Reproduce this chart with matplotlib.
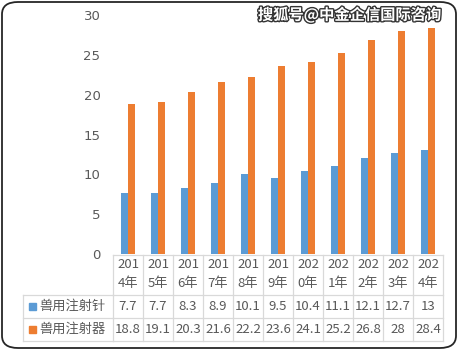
import matplotlib.pyplot as plt
import matplotlib.patheffects as pe
from matplotlib.patches import FancyBboxPatch, Rectangle
from matplotlib.transforms import blended_transform_factory

plt.rcParams['font.family'] = ['Noto Sans CJK SC', 'DejaVu Sans']

years = ['2014年', '2015年', '2016年', '2017年', '2018年', '2019年',
         '2020年', '2021年', '2022年', '2023年', '2024年']
needle = [7.7, 7.7, 8.3, 8.9, 10.1, 9.5, 10.4, 11.1, 12.1, 12.7, 13]
syringe = [18.8, 19.1, 20.3, 21.6, 22.2, 23.6, 24.1, 25.2, 26.8, 28, 28.4]
series_names = ['兽用注射针', '兽用注射器']
colors = ['#5b9bd5', '#ed7d31']
yticks = [0, 5, 10, 15, 20, 25, 30]

W, H = 458, 350
fig = plt.figure(figsize=(W / 100, H / 100), dpi=100)
txt = '#595959'
grid = '#d9d9d9'

# rounded outer frame
fig.patches.append(FancyBboxPatch((2 / W, 2 / H), 1 - 4 / W, 1 - 4 / H,
                                  boxstyle='round,pad=0,rounding_size=0.035',
                                  transform=fig.transFigure, fill=False,
                                  edgecolor='#262626', linewidth=1.3))

x0, x1 = 113, 443
ax = fig.add_axes([x0 / W, (H - 254) / H, (x1 - x0) / W, (254 - 15) / H])
n = len(years)
xs = list(range(n))
bw = 0.235
ax.bar([x - bw / 2 for x in xs], needle, bw, color=colors[0])
ax.bar([x + bw / 2 for x in xs], syringe, bw, color=colors[1])
ax.set_xlim(-0.5, n - 0.5)
ax.set_ylim(0, 30)
ax.set_yticks(yticks)
ax.set_yticklabels([str(v) for v in yticks], color=txt, fontsize=9.5,
                   family='DejaVu Sans')
ax.tick_params(axis='y', length=0, pad=9)
ax.set_xticks([])
for s in ax.spines.values():
    s.set_visible(False)

# data table under the axes (x in data units, y in figure pixels)
tr = blended_transform_factory(ax.transData, fig.transFigure)
trf = fig.transFigure


def fy(py):
    return (H - py) / H


rows_y = [255, 295, 318, 341]
lx = 23
lw = 0.9
# horizontal lines
for i, py in enumerate(rows_y):
    ax.plot([-0.5, n - 0.5], [fy(py)] * 2, color=grid, lw=lw, transform=tr,
            clip_on=False)
    if i >= 1:
        fig.add_artist(plt.Line2D([lx / W, x0 / W], [fy(py)] * 2, color=grid,
                                  lw=lw, transform=trf))
# vertical lines
for k in range(n + 1):
    ax.plot([k - 0.5] * 2, [fy(255), fy(341)], color=grid, lw=lw,
            transform=tr, clip_on=False)
fig.add_artist(plt.Line2D([lx / W] * 2, [fy(295), fy(341)], color=grid,
                          lw=lw, transform=trf))

for k, yr in enumerate(years):
    ax.text(k, fy(264), yr[:3], ha='center', va='center', fontsize=9.5,
            color=txt, transform=tr)
    ax.text(k, fy(284), yr[3:], ha='center', va='center', fontsize=9.5,
            color=txt, transform=tr)
    ax.text(k, fy(306.5), f'{needle[k]:g}', ha='center', va='center',
            fontsize=9.5, color=txt, transform=tr)
    ax.text(k, fy(329.5), f'{syringe[k]:g}', ha='center', va='center',
            fontsize=9.5, color=txt, transform=tr)

for j, (name, c) in enumerate(zip(series_names, colors)):
    cy = (306.5, 329.5)[j]
    fig.patches.append(Rectangle((29 / W, fy(cy + 3.5)), 7 / W, 7 / H,
                                 transform=trf, color=c))
    fig.text(39 / W, fy(cy), name, ha='left', va='center', fontsize=9.5,
             color=txt)

# watermark
fig.text(441 / W, fy(15), '搜狐号@中金企信国际咨询', ha='right', va='center',
         fontsize=11, color='white', fontweight='bold',
         path_effects=[pe.withStroke(linewidth=2, foreground='#333333')])

fig.savefig('out.png', dpi=100)
